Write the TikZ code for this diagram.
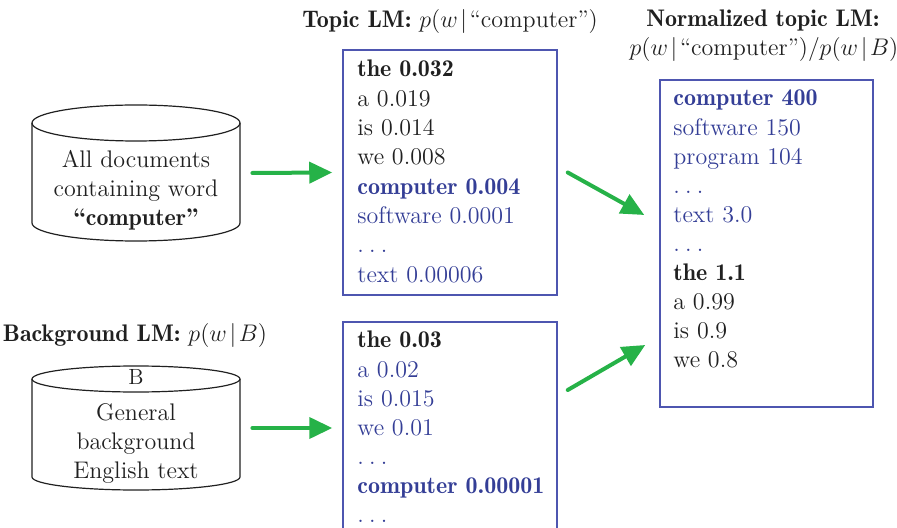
\documentclass[tikz,border=0pt]{standalone}
\usetikzlibrary{arrows.meta,calc}
\definecolor{ink}{RGB}{32,32,32}
\definecolor{blueT}{RGB}{52,62,150}
\definecolor{boxc}{RGB}{78,86,176}
\definecolor{greenA}{RGB}{38,178,72}
% semibold (non-extended) weight of Latin Modern
\newcommand\sembf{\fontseries{b}\selectfont}
% spaced ellipsis used in the word lists
\newcommand\sdots{.\kern2.6pt.\kern2.6pt.}
% conditional bar with thin spacing
\newcommand\cbar{\mkern2mu|\mkern2mu}
\begin{document}
\begin{tikzpicture}[x=0.5pt,y=-0.5pt,
  font=\fontsize{12}{14}\selectfont, text=ink,
  lmbox/.style={draw=boxc, line width=0.75pt, inner sep=0pt, minimum width=107pt},
  dbnode/.style={inner sep=0pt, minimum width=104pt},
  dbline/.style={draw=ink, line width=0.6pt},
  lline/.style={anchor=base west, inner sep=0pt},
  cline/.style={anchor=base, inner sep=0pt},
  arr/.style={draw=greenA, line width=2pt, line cap=round,
              -{Triangle[length=11.5pt,width=10.5pt]}}]
\useasboundingbox (0,0) rectangle (897,528);
\clip (0,0) rectangle (897,528);

% ---- document collections (cylinders) ----
\node[dbnode, minimum height=68pt] (db1) at (136,173) {};
\draw[dbline] (136,123) ellipse[x radius=52pt, y radius=9pt];
\draw[dbline] (32,123) -- (32,223) arc[start angle=180, end angle=360, x radius=52pt, y radius=9pt] -- (240,123);
\node[cline] (db1a) at (136,168) {All documents};
\node[cline] (db1b) at (136,197) {containing word};
\node[cline] (db1c) at (136,226) {\sembf “computer”};

\node[dbnode, minimum height=62pt] (db2) at (136,428) {};
\draw[dbline] (136,379) ellipse[x radius=52pt, y radius=6.5pt];
\draw[dbline] (32,379) -- (32,477) arc[start angle=180, end angle=360, x radius=52pt, y radius=6.5pt] -- (240,379);
\node[cline, font=\fontsize{11}{13}\selectfont] (db2b) at (136,384) {B};
\node[cline] (db2c) at (136,420) {General};
\node[cline] (db2d) at (136,449) {background};
\node[cline] (db2e) at (136,478) {English text};

% ---- titles ----
\node[cline] (ttopic) at (450,28) {\sembf Topic LM: \normalfont$p(w\cbar\mbox{“computer”})$};
\node[cline] (tnorm1) at (763,27) {\sembf Normalized topic LM:};
\node[cline] (tnorm2) at (764,56) {$p(w\cbar\mbox{“computer”})/p(w\cbar B)$};
\node[cline] (tback) at (135,342) {\sembf Background LM: \normalfont$p(w\cbar B)$};

% ---- language model boxes ----
\node[lmbox, minimum height=122.5pt] (topic) at (450,172.5) {};
\node[lmbox, minimum height=106pt] (bg) at (450,428) {};
\node[lmbox, minimum width=106.5pt, minimum height=163.5pt] (norm) at (766.5,243.5) {};

\foreach \txt [count=\i] in {{\sembf the 0.032}, a 0.019, is 0.014, we 0.008,
    {\color{blueT}\sembf computer 0.004}, {\color{blueT}software 0.0001},
    {\color{blueT}\sdots}, {\color{blueT}text 0.00006}}
  \node[lline] (tl\i) at (357,{77+29.3*(\i-1)}) {\txt};

\foreach \txt [count=\i] in {{\sembf the 0.03}, {\color{blueT}a 0.02},
    {\color{blueT}is 0.015}, {\color{blueT}we 0.01}, {\color{blueT}\sdots},
    {\color{blueT}\sembf computer 0.00001}, {\color{blueT}\sdots}}
  \node[lline] (bl\i) at (357,{348+29*(\i-1)}) {\txt};

\foreach \txt [count=\i] in {{\color{blueT}\sembf computer 400}, {\color{blueT}software 150},
    {\color{blueT}program 104}, {\color{blueT}\sdots}, {\color{blueT}text 3.0},
    {\color{blueT}\sdots}, {\sembf the 1.1}, a 0.99, is 0.9, we 0.8}
  \node[lline] (nl\i) at (673,{106+29.1*(\i-1)}) {\txt};

% ---- connectors ----
\draw[arr] ([xshift=6pt]db1.east) -- ([xshift=-5pt]topic.west);
\draw[arr] ([xshift=6pt]db2.east) -- ([xshift=-5pt]bg.west);
\draw[arr] ($(topic.east)+(10,0)$) -- ($(norm.west)+(-15,-28.5)$);
\draw[arr] ($(bg.east)+(10,-38)$) -- ($(norm.west)+(-14,101.5)$);
\end{tikzpicture}
\end{document}
